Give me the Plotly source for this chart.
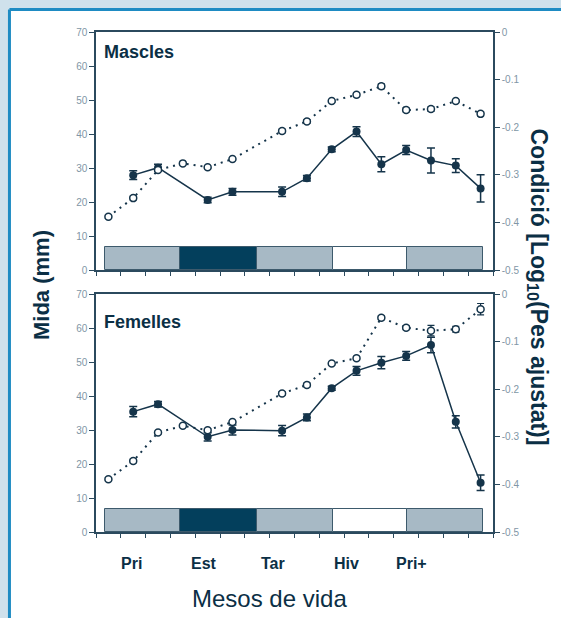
import plotly.graph_objects as go

# ---------------- data ----------------
# months of life (1..16); season strip boundaries in month units
season_edges = [0.85, 3.9, 7.0, 10.05, 13.05, 16.1]
season_kind = ["light", "dark", "light", "white", "light"]
season_bar_height = 6.8

season_labels = ["Pri", "Est", "Tar", "Hiv", "Pri+"]
season_label_pos = [1.94, 4.85, 7.62, 10.58, 13.23]

month_edges = [m + 0.5 for m in range(0, 17)]

# Mascles
m_size_months = [2, 3, 5, 6, 8, 9, 10, 11, 12, 13, 14, 15, 16]
m_size = [27.9, 30.1, 20.6, 23.0, 23.0, 27.0, 35.5, 40.7, 31.1, 35.3, 32.2, 30.7, 24.0]
m_size_err = [1.3, 1.0, 0.8, 1.0, 1.4, 0.8, 0.7, 1.4, 2.2, 1.3, 3.7, 2.0, 4.0]

m_cond_months = [1, 2, 3, 4, 5, 6, 8, 9, 10, 11, 12, 13, 14, 15, 16]
m_cond = [-0.388, -0.349, -0.290, -0.276, -0.284, -0.267, -0.208, -0.188,
          -0.145, -0.132, -0.114, -0.164, -0.162, -0.145, -0.172]
m_cond_err = [0.003, 0.004, 0.003, 0.002, 0.003, 0.003, 0.004, 0.004,
              0.003, 0.004, 0.005, 0.004, 0.005, 0.003, 0.005]

# Femelles
f_size_months = [2, 3, 5, 6, 8, 9, 10, 11, 12, 13, 14, 15, 16]
f_size = [35.4, 37.6, 28.0, 30.0, 29.8, 33.7, 42.3, 47.4, 49.8, 51.8, 55.0, 32.4, 14.5]
f_size_err = [1.5, 0.8, 1.2, 1.5, 1.5, 1.0, 0.6, 1.3, 1.8, 1.3, 2.3, 1.8, 2.3]

f_cond_months = [1, 2, 3, 4, 5, 6, 8, 9, 10, 11, 12, 13, 14, 15, 16]
f_cond = [-0.389, -0.351, -0.291, -0.277, -0.286, -0.269, -0.209, -0.191,
          -0.146, -0.135, -0.050, -0.071, -0.077, -0.074, -0.032]
f_cond_err = [0.003, 0.004, 0.003, 0.002, 0.003, 0.003, 0.004, 0.004,
              0.003, 0.004, 0.004, 0.004, 0.011, 0.006, 0.012]

right_tickvals = [0, -0.1, -0.2, -0.3, -0.4, -0.5]
right_ticktext = ["0", "-0.1", "-0.2", "-0.3", "-0.4", "-0.5"]

# ---------------- styles ----------------
NAVY = "#15344a"
AXIS = "#2b4a5e"
TICKFONT = dict(family="Liberation Sans", size=10, color="#8196a6")
SEASON_COL = {"light": "#a7b9c5", "dark": "#033f5c", "white": "#ffffff"}
FONT = "Liberation Sans"
BORDER = "#1e8bc3"
OUTER = "#cfe1ec"

centers = [(a + b) / 2 for a, b in zip(season_edges[:-1], season_edges[1:])]
widths = [b - a for a, b in zip(season_edges[:-1], season_edges[1:])]

fig = go.Figure()


def add_panel(xa, ya_left, ya_right, s_months, s_vals, s_err, c_months, c_vals, c_err):
    fig.add_trace(go.Bar(
        x=centers, y=[season_bar_height] * len(centers), width=widths,
        marker=dict(color=[SEASON_COL[k] for k in season_kind],
                    line=dict(color="#3d5a6c", width=1)),
        xaxis=xa, yaxis=ya_left, hoverinfo="skip"))
    fig.add_trace(go.Scatter(
        x=s_months, y=s_vals, mode="lines+markers",
        line=dict(color=NAVY, width=1.5),
        marker=dict(symbol="circle", size=8, color=NAVY),
        error_y=dict(type="data", array=s_err, color=NAVY, thickness=1.5, width=4),
        xaxis=xa, yaxis=ya_left))
    fig.add_trace(go.Scatter(
        x=c_months, y=c_vals, mode="lines+markers",
        line=dict(color=NAVY, width=2, dash="2px,5px"),
        marker=dict(symbol="circle", size=7, color="white",
                    line=dict(color=NAVY, width=1.5)),
        error_y=dict(type="data", array=c_err, color=NAVY, thickness=1.2, width=3.5),
        xaxis=xa, yaxis=ya_right))


add_panel("x", "y", "y2", m_size_months, m_size, m_size_err, m_cond_months, m_cond, m_cond_err)
add_panel("x2", "y3", "y4", f_size_months, f_size, f_size_err, f_cond_months, f_cond, f_cond_err)

xcommon = dict(range=[0.5, 16.5], tickmode="array", tickvals=month_edges,
               ticks="outside", ticklen=4, tickwidth=1.2, tickcolor=AXIS,
               showticklabels=False, showline=True, linecolor=AXIS, linewidth=1.5,
               mirror=True, showgrid=False, zeroline=False)
yleft = dict(range=[0, 70], tickmode="array", tickvals=[0, 10, 20, 30, 40, 50, 60, 70],
             ticks="outside", ticklen=5, tickwidth=1.2, tickcolor=AXIS, tickfont=TICKFONT,
             showline=True, linecolor=AXIS, linewidth=1.5, showgrid=False, zeroline=False)
yright = dict(range=[-0.5, 0], tickmode="array", tickvals=right_tickvals, ticktext=right_ticktext,
              side="right", ticks="outside", ticklen=5, tickwidth=1.2, tickcolor=AXIS,
              tickfont=TICKFONT, showline=True, linecolor=AXIS, linewidth=1.5,
              showgrid=False, zeroline=False)

top_dom = [0.524, 1.0]
bot_dom = [0.0, 0.476]

BX = -0.218   # left border (paper coords)
BY = 1.045    # top border (paper coords)

fig.update_layout(
    width=561, height=618, autosize=False,
    margin=dict(l=96, r=68, t=32, b=86),
    paper_bgcolor="white", plot_bgcolor="white",
    showlegend=False, barmode="overlay", bargap=0,
    xaxis=dict(xcommon, domain=[0, 1], anchor="y"),
    yaxis=dict(yleft, domain=top_dom, anchor="x"),
    yaxis2=dict(yright, overlaying="y", anchor="x"),
    xaxis2=dict(xcommon, domain=[0, 1], anchor="y3"),
    yaxis3=dict(yleft, domain=bot_dom, anchor="x2"),
    yaxis4=dict(yright, overlaying="y3", anchor="x2"),
    shapes=[
        dict(type="rect", xref="paper", yref="paper",
             x0=-0.4, x1=BX, y0=-0.3, y1=1.2,
             fillcolor=OUTER, line=dict(width=0), layer="below"),
        dict(type="rect", xref="paper", yref="paper",
             x0=-0.4, x1=1.3, y0=BY, y1=1.2,
             fillcolor=OUTER, line=dict(width=0), layer="below"),
        dict(type="line", xref="paper", yref="paper",
             x0=BX, x1=1.3, y0=BY, y1=BY,
             line=dict(color=BORDER, width=3), layer="below"),
        dict(type="line", xref="paper", yref="paper",
             x0=BX, x1=BX, y0=-0.3, y1=BY,
             line=dict(color=BORDER, width=3), layer="below"),
    ],
)

ann = [
    dict(text="<b>Mascles</b>", x=0.014, y=0.961, xref="paper", yref="paper",
         xanchor="left", yanchor="middle", showarrow=False,
         font=dict(family=FONT, size=18, color="#0b2f45")),
    dict(text="<b>Femelles</b>", x=0.014, y=0.421, xref="paper", yref="paper",
         xanchor="left", yanchor="middle", showarrow=False,
         font=dict(family=FONT, size=18, color="#0b2f45")),
    dict(text="<b>Mida (mm)</b>", x=-0.1385, y=0.494, xref="paper", yref="paper",
         xanchor="center", yanchor="middle", textangle=-90, showarrow=False,
         font=dict(family=FONT, size=22, color="#0b2f45")),
    dict(text="<b>Condició [Log<sub>10</sub>(Pes ajustat)]</b>", x=1.1146, y=0.49,
         xref="paper", yref="paper", xanchor="center", yanchor="middle",
         textangle=90, showarrow=False,
         font=dict(family=FONT, size=23, color="#0b2f45")),
    dict(text="Mesos de vida", x=0.438, y=-0.132, xref="paper", yref="paper",
         xanchor="center", yanchor="middle", showarrow=False,
         font=dict(family=FONT, size=24, color="#0b2f45")),
]
for lab, pos in zip(season_labels, season_label_pos):
    ann.append(dict(text="<b>%s</b>" % lab, x=pos, y=-0.062, xref="x2", yref="paper",
                    xanchor="center", yanchor="middle", showarrow=False,
                    font=dict(family=FONT, size=16, color="#0b2f45")))
fig.update_layout(annotations=ann)

fig.write_html("out.html", config={"displayModeBar": False},
               post_script="document.body.style.margin='0';document.body.style.overflow='hidden';")
